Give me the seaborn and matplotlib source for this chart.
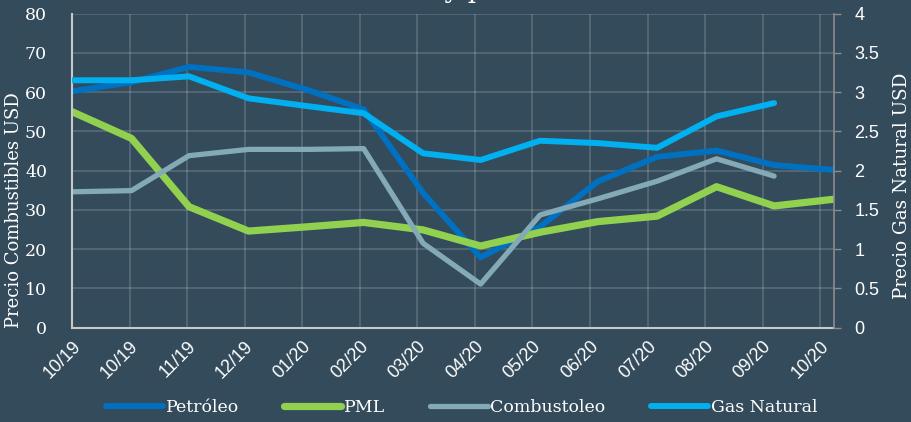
import matplotlib
matplotlib.use('Agg')
import matplotlib.pyplot as plt
import matplotlib.dates as mdates
import pandas as pd
import seaborn as sns

# monthly data points (first of each month)
meses = pd.date_range('2019-10-01', periods=14, freq='MS')
# axis ticks every 30 days, as in the original chart
ticks = pd.date_range('2019-10-01', periods=14, freq='30D')

petroleo = [60.2, 62.5, 66.4, 65.0, 60.5, 55.6, 34.3, 17.9, 25.7, 37.2, 43.5, 45.1, 41.4, 40.2]
pml = [55.0, 48.2, 30.8, 24.6, 25.7, 26.8, 24.9, 20.8, 24.3, 27.0, 28.4, 35.9, 31.0, 32.7]
combustoleo = [34.6, 34.9, 43.8, 45.4, 45.4, 45.6, 21.5, 11.1, 28.7, 32.8, 37.3, 43.0, 38.6]
gas_natural = [3.15, 3.15, 3.2, 2.92, 2.82, 2.73, 2.22, 2.135, 2.38, 2.35, 2.29, 2.69, 2.86]

bg = '#334b5b'
txt = 'white'

sns.set_theme(style='dark')
plt.rcParams['font.family'] = ['DejaVu Serif']

fig, ax = plt.subplots(figsize=(9.12, 4.22), dpi=100)
fig.patch.set_facecolor(bg)
ax.set_facecolor(bg)
fig.subplots_adjust(left=0.079, right=0.914, top=0.968, bottom=0.2235)

ax2 = ax.twinx()

sns.lineplot(x=meses, y=petroleo, ax=ax, color='#0070c0', lw=4.3,
             solid_capstyle='round', label='Petróleo', legend=False)
sns.lineplot(x=meses, y=pml, ax=ax, color='#92d050', lw=5.2,
             solid_capstyle='round', label='PML', legend=False)
sns.lineplot(x=meses[:len(combustoleo)], y=combustoleo, ax=ax, color='#84aab8', lw=3.8,
             solid_capstyle='round', label='Combustoleo', legend=False)
sns.lineplot(x=meses[:len(gas_natural)], y=gas_natural, ax=ax2, color='#00b0f0', lw=4.3,
             solid_capstyle='round', label='Gas Natural', legend=False)

ax.set_ylim(0, 80)
ax.set_yticks(range(0, 81, 10))
ax2.set_ylim(0, 4)
ax2.set_yticks([0, 0.5, 1, 1.5, 2, 2.5, 3, 3.5, 4])
ax2.set_yticklabels(['0', '0.5', '1', '1.5', '2', '2.5', '3', '3.5', '4'])
ax.set_xlim(meses[0], meses[-1])
ax.set_xticks(ticks)
ax.xaxis.set_major_formatter(mdates.DateFormatter('%m/%y'))

ax.grid(True, color='white', alpha=0.18, lw=1.2)
ax2.grid(False)

for a in (ax, ax2):
    for s in a.spines.values():
        s.set_visible(False)
ax.spines['left'].set_visible(True)
ax.spines['left'].set_color('#c8c8c8')
ax.spines['left'].set_linewidth(1.5)
ax.spines['bottom'].set_visible(True)
ax.spines['bottom'].set_color('#c8c8c8')
ax.spines['bottom'].set_linewidth(1.5)
ax2.spines['right'].set_visible(True)
ax2.spines['right'].set_color('#8c8c8c')
ax2.spines['right'].set_linewidth(1.2)

ax.tick_params(axis='y', length=0, pad=18, labelsize=12.5, labelcolor=txt)
ax.tick_params(axis='x', length=0, pad=7, labelsize=13, labelcolor=txt)
ax2.tick_params(axis='y', length=5, width=1, color='#8c8c8c', pad=10,
                labelsize=13, labelcolor=txt)
for lab in ax.get_xticklabels():
    lab.set_rotation(45)
    lab.set_ha('right')
    lab.set_rotation_mode('anchor')
    lab.set_family(['Liberation Sans', 'DejaVu Sans'])
for lab in ax2.get_yticklabels():
    lab.set_family(['Liberation Sans', 'DejaVu Sans'])

ax.set_ylabel('Precio Combustibles USD', color=txt, fontsize=13)
ax2.set_ylabel('Precio Gas Natural USD', color=txt, fontsize=13.2)
ax.yaxis.set_label_coords(-0.064, 0.375)
ax2.yaxis.set_label_coords(1.078, 0.45)
ax.set_xlabel('')

# title sits mostly above the top edge in the original
fig.text(0.56, 1.004, 'Evolución del PML y precios de los combustibles',
         color=txt, fontsize=19, ha='center', va='baseline')

h1, l1 = ax.get_legend_handles_labels()
h2, l2 = ax2.get_legend_handles_labels()
leg = fig.legend(h1 + h2, l1 + l2, loc='lower center', ncol=4, frameon=False,
                 bbox_to_anchor=(0.506, -0.022), handlelength=3.3, handletextpad=0.15,
                 columnspacing=2.6, fontsize=12.5)
for t in leg.get_texts():
    t.set_color(txt)

fig.savefig('out.png', dpi=100, facecolor=bg)
